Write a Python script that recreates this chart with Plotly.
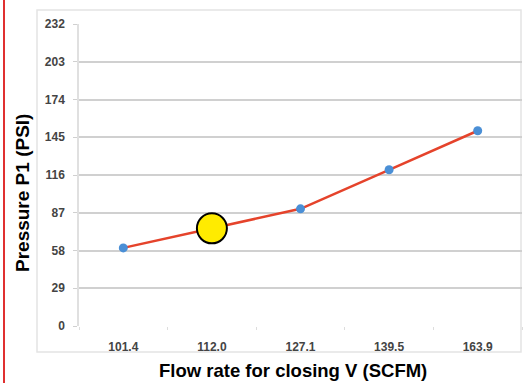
import plotly.graph_objects as go

categories = ["101.4", "112.0", "127.1", "139.5", "163.9"]
pressure = [60, 75, 90, 120, 150]
highlight_cat = ["112.0"]
highlight_val = [75]
y_ticks = [0, 29, 58, 87, 116, 145, 174, 203, 232]

L, R, T, B = 79, 3, 24, 57
W, H = 525, 383
pw, ph = W - L - R, H - T - B

def px_x(p):
    return (p - L) / pw

def px_y(p):
    return (H - B - p) / ph

fig = go.Figure()
fig.add_trace(go.Scatter(
    x=categories, y=pressure, mode="lines+markers",
    line=dict(color="#E5432B", width=2.5),
    marker=dict(color="#4A8FD6", size=9),
    showlegend=False, hoverinfo="skip"))
fig.add_trace(go.Scatter(
    x=highlight_cat, y=highlight_val, mode="markers",
    marker=dict(color="#FFEB00", size=30, line=dict(color="#000000", width=2)),
    showlegend=False, hoverinfo="skip"))

font = "Liberation Sans, Arial, sans-serif"
fig.update_layout(
    width=W, height=H,
    margin=dict(l=L, r=R, t=T, b=B),
    paper_bgcolor="white", plot_bgcolor="white",
    font=dict(family=font),
    xaxis=dict(
        type="category", range=[-0.5, 4.5], automargin=False,
        showgrid=False, showline=False, zeroline=False,
        ticks="outside", tickson="boundaries", ticklen=3, tickcolor="#dddddd",
        tickfont=dict(size=12, color="#444444", family=font, weight="bold"),
        ticklabelstandoff=12,
    ),
    yaxis=dict(
        range=[0, 232], tickvals=y_ticks, ticktext=[str(v) for v in y_ticks],
        automargin=False,
        showgrid=True, gridcolor="#d0d0d0", gridwidth=1.5,
        zeroline=False, showline=True, linecolor="#e0e0e0", linewidth=1.5,
        ticks="outside", ticklen=4, tickcolor="#d0d0d0",
        tickfont=dict(size=12, color="#444444", family=font, weight="bold"),
        ticklabelstandoff=6,
    ),
    annotations=[
        dict(text="<b>Flow rate for closing V (SCFM)</b>", xref="paper", yref="paper",
             x=px_x(293), y=px_y(370), showarrow=False,
             xanchor="center", yanchor="middle",
             font=dict(size=18.5, color="#000000", family=font)),
        dict(text="<b>Pressure P1 (PSI)</b>", xref="paper", yref="paper",
             x=px_x(22), y=px_y(193), showarrow=False, textangle=-90,
             xanchor="center", yanchor="middle",
             font=dict(size=19, color="#000000", family=font)),
    ],
    shapes=[
        dict(type="rect", xref="paper", yref="paper",
             x0=px_x(37), x1=px_x(521), y0=px_y(352), y1=px_y(10),
             line=dict(color="#e4e4e4", width=1.5), layer="below"),
        dict(type="line", xref="paper", yref="paper",
             x0=px_x(4), x1=px_x(4), y0=px_y(383), y1=px_y(0),
             line=dict(color="#E03030", width=2)),
    ],
)

fig.write_html("out.html",
               config={"displayModeBar": False},
               post_script="document.body.style.margin='0';document.body.style.overflow='hidden';")
